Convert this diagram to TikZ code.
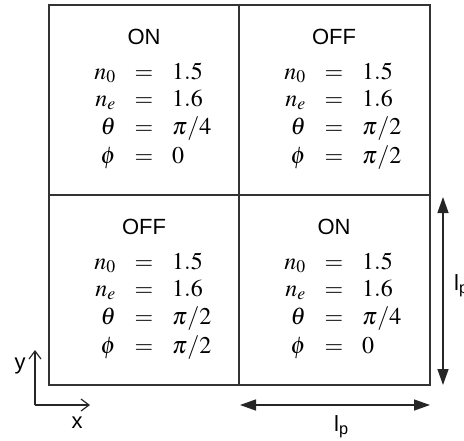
\documentclass[tikz,border=0pt]{standalone}
\usepackage[no-math]{fontspec}
\usepackage{mathptmx}
\newfontfamily\arialf{Liberation Sans}
\usetikzlibrary{arrows.meta}
\tikzset{
  boxline/.style={line width=1.4pt, draw=black!80},
  ttl/.style={inner sep=0pt, font=\arialf\fontsize{22}{26}\selectfont},
  mth/.style={inner sep=0pt, font=\fontsize{24}{28}\selectfont},
  lhs/.style={mth, anchor=base east},
  eqs/.style={mth, anchor=base},
  rhs/.style={mth, anchor=base west},
  lab/.style={inner sep=0pt, font=\arialf\fontsize{22}{26}\selectfont},
  dimarrow/.style={{Triangle[length=16pt,width=11pt]}-{Triangle[length=16pt,width=11pt]}, line width=1.4pt, draw=black!85},
  axisarrow/.style={-{Straight Barb[length=8pt,width=12pt]}, line width=1.2pt, draw=black!85}
}
\newcommand\mycell[6]{%
  \node[ttl] (#6t) at (#1,#2+32) {#3};
  \node[lhs] (#6a1) at (#1-28,#2+74) {$n_0$};
  \node[eqs] (#6b1) at (#1,#2+74) {$=$};
  \node[rhs] (#6c1) at (#1+28,#2+74) {$1.5$};
  \node[lhs] (#6a2) at (#1-28,#2+101) {$n_e$};
  \node[eqs] (#6b2) at (#1,#2+101) {$=$};
  \node[rhs] (#6c2) at (#1+28,#2+101) {$1.6$};
  \node[lhs] (#6a3) at (#1-28,#2+129) {$\theta$};
  \node[eqs] (#6b3) at (#1,#2+129) {$=$};
  \node[rhs] (#6c3) at (#1+28,#2+129) {$#4$};
  \node[lhs] (#6a4) at (#1-28,#2+158) {$\phi$};
  \node[eqs] (#6b4) at (#1,#2+158) {$=$};
  \node[rhs] (#6c4) at (#1+28,#2+158) {$#5$};
}
\begin{document}
\begin{tikzpicture}[x=1pt,y=-1pt]
  \useasboundingbox (0,0) rectangle (464,440);
  % grid
  \coordinate (tl) at (49,5);
  \coordinate (br) at (430,385);
  \coordinate (mt) at (239,5);
  \coordinate (mb) at (239,385);
  \coordinate (ml) at (49,195);
  \coordinate (mr) at (430,195);
  \draw[boxline] (tl) rectangle (br);
  \draw[boxline] (mt) -- (mb);
  \draw[boxline] (ml) -- (mr);
  % cells
  \mycell{144}{5}{ON}{\pi/4}{0}{A}
  \mycell{334}{5}{OFF}{\pi/2}{\pi/2}{B}
  \mycell{144}{195}{OFF}{\pi/2}{\pi/2}{C}
  \mycell{334}{195}{ON}{\pi/4}{0}{D}
  % dimension arrows
  \coordinate (v1) at (443,197);
  \coordinate (v2) at (443,385);
  \draw[dimarrow] (v1) -- (v2);
  \node[lab, anchor=base west] (lpv) at (454,290) {l\textsubscript{p}};
  \coordinate (h1) at (240,405);
  \coordinate (h2) at (430,405);
  \draw[dimarrow] (h1) -- (h2);
  \node[lab, anchor=base west] (lph) at (334,431) {l\textsubscript{p}};
  % axes
  \coordinate (o) at (35,405);
  \coordinate (ya) at (35,350);
  \coordinate (xa) at (90,405);
  \draw[axisarrow] (o) -- (ya);
  \draw[axisarrow] (o) -- (xa);
  \node[lab, anchor=base] (ylab) at (20,369) {y};
  \node[lab, anchor=base] (xlab) at (77,428) {x};
\end{tikzpicture}
\end{document}
